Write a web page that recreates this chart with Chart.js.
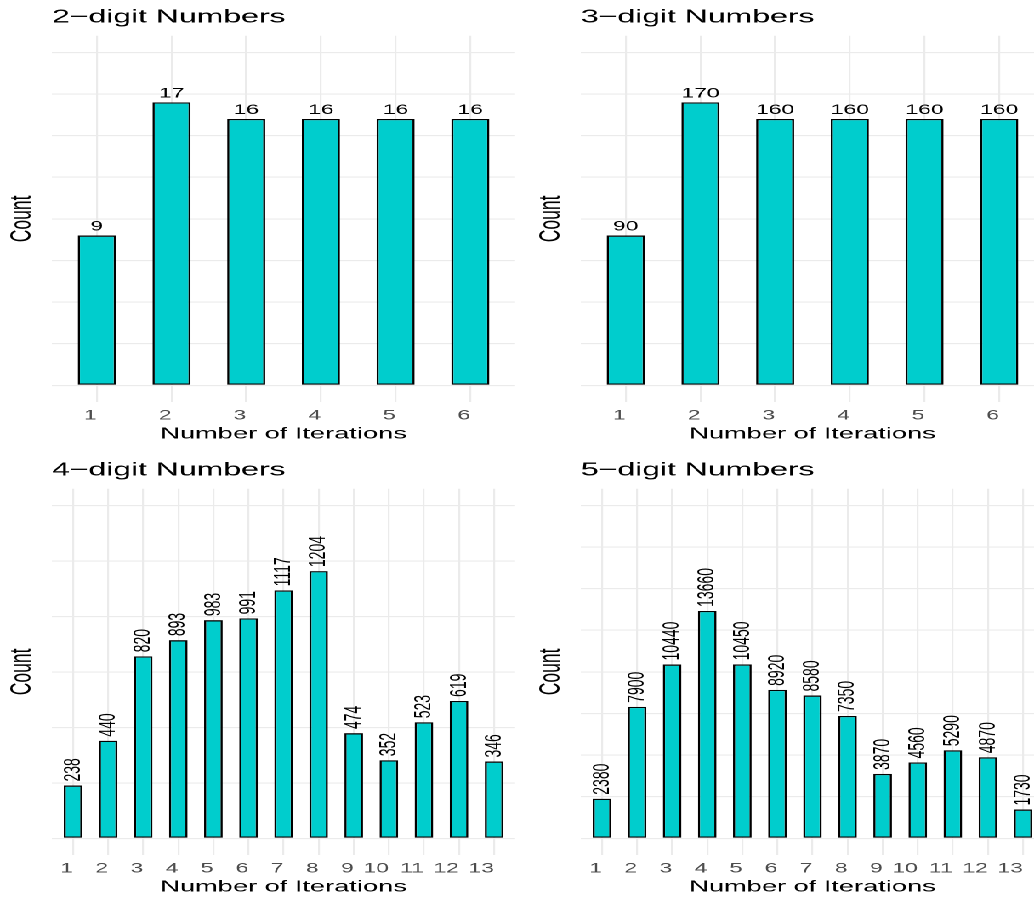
<!DOCTYPE html>
<html>
<head>
<meta charset="utf-8">
<script src="https://cdn.jsdelivr.net/npm/chart.js@4"></script>
<style>
  html, body { margin: 0; padding: 0; background: #fff; overflow: hidden; width: 1034px; height: 899px; }
  /* the original figure is drawn narrow and stretched sideways */
  #stage { position: relative; width: 608px; height: 899px; overflow: hidden; transform: scaleX(1.7007); transform-origin: 0 0; }
  #stage canvas { position: absolute; }
</style>
</head>
<body>
<div id="stage">
  <canvas id="c2" width="311" height="450" style="left:0;top:0"></canvas>
  <canvas id="c3" width="311" height="450" style="left:311.1px;top:0"></canvas>
  <canvas id="c4" width="311" height="450" style="left:0;top:453px"></canvas>
  <canvas id="c5" width="311" height="450" style="left:311.1px;top:453px"></canvas>
</div>
<script>
const iter6 = [1, 2, 3, 4, 5, 6];
const iter13 = [1, 2, 3, 4, 5, 6, 7, 8, 9, 10, 11, 12, 13];

const count2 = [9, 17, 16, 16, 16, 16];
const count3 = [90, 170, 160, 160, 160, 160];
const count4 = [238, 440, 820, 893, 983, 991, 1117, 1204, 474, 352, 523, 619, 346];
const count5 = [2380, 7900, 10440, 13660, 10450, 8920, 8580, 7350, 3870, 4560, 5290, 4870, 1730];

const titles = ['2\u2212digit Numbers', '3\u2212digit Numbers', '4\u2212digit Numbers', '5\u2212digit Numbers'];
const yLimits = [20, 200, 1500, 20000];
const yGridSteps = [2.5, 25, 250, 2500];

const FONT = '"Liberation Sans", Arial, Helvetica, sans-serif';
const GRID = '#EBEBEB';
const FILL = '#00CDCD';

// count labels over the bars (vertical on the wide panels)
const barLabels = {
  id: 'barLabels',
  afterDatasetsDraw(chart, args, opts) {
    const ctx = chart.ctx;
    const pts = chart.data.datasets[0].data;
    ctx.save();
    ctx.fillStyle = '#000';
    ctx.font = opts.size + 'px ' + FONT;
    chart.getDatasetMeta(0).data.forEach((bar, i) => {
      const txt = String(pts[i].y);
      if (opts.rotate) {
        ctx.save();
        ctx.translate(bar.x, bar.y - opts.gap);
        ctx.rotate(-Math.PI / 2);
        ctx.textAlign = 'left';
        ctx.textBaseline = 'middle';
        ctx.fillText(txt, 0, 0);
        ctx.restore();
      } else {
        ctx.textAlign = 'center';
        ctx.textBaseline = 'alphabetic';
        ctx.fillText(txt, bar.x, bar.y - opts.gap);
      }
    });
    ctx.restore();
  }
};

function makeChart(id, title, cats, counts, yMax, yStep, rotate) {
  const yTicks = [];
  for (let v = 0; v <= yMax + 1e-9; v += yStep) yTicks.push(v);
  const pad = yMax * 0.05;
  return new Chart(document.getElementById(id), {
    type: 'bar',
    data: {
      datasets: [{
        data: cats.map((c, i) => ({ x: c, y: counts[i] })),
        backgroundColor: FILL,
        borderColor: '#000',
        borderWidth: 1.3,
        borderSkipped: false,
        barPercentage: cats.length > 6 ? 0.53 : 0.51,
        categoryPercentage: 1.0
      }]
    },
    options: {
      responsive: false,
      animation: false,
      devicePixelRatio: 2,
      layout: { padding: { left: 0, right: 8.1, top: 0, bottom: 0 } },
      plugins: {
        legend: { display: false },
        tooltip: { enabled: false },
        title: {
          display: true, text: title, align: 'start', fullSize: false,
          color: '#000', font: { family: FONT, size: 18.8, weight: 'normal', lineHeight: 1.2 },
          padding: { top: 6, bottom: 7.2 }
        },
        barLabels: { rotate: rotate, size: rotate ? 14 : 13.5, gap: rotate ? 4 : 4.8 }
      },
      scales: {
        x: {
          type: 'linear',
          offset: false,
          min: cats[0] - 0.6,
          max: cats[cats.length - 1] + 0.6,
          afterBuildTicks: s => { s.ticks = cats.map(v => ({ value: v })); },
          afterFit: s => { s.height = 48; },
          grid: { color: GRID, lineWidth: 1.1, drawTicks: false, offset: false },
          border: { display: false },
          ticks: { color: '#4D4D4D', font: { family: FONT, size: 13.5 }, padding: 5.7, maxRotation: 0, autoSkip: false, align: 'end' },
          title: {
            display: true, text: 'Number of Iterations', color: '#000',
            font: { family: FONT, size: 16, lineHeight: 1.2 }, padding: { top: 0, bottom: 6.55 }
          }
        },
        y: {
          min: -pad,
          max: yMax + pad,
          afterBuildTicks: s => { s.ticks = yTicks.map(v => ({ value: v })); },
          afterFit: s => { s.width = 30.58; },
          grid: { color: GRID, lineWidth: 1.1, drawTicks: false },
          border: { display: false },
          ticks: { display: false },
          title: {
            display: true, text: 'Count', color: '#000',
            font: { family: FONT, size: 17.5, lineHeight: 1.2 }, padding: { top: 2.7, bottom: 0 }
          }
        }
      }
    },
    plugins: [barLabels]
  });
}

makeChart('c2', titles[0], iter6, count2, yLimits[0], yGridSteps[0], false);
makeChart('c3', titles[1], iter6, count3, yLimits[1], yGridSteps[1], false);
makeChart('c4', titles[2], iter13, count4, yLimits[2], yGridSteps[2], true);
makeChart('c5', titles[3], iter13, count5, yLimits[3], yGridSteps[3], true);
</script>
</body>
</html>
